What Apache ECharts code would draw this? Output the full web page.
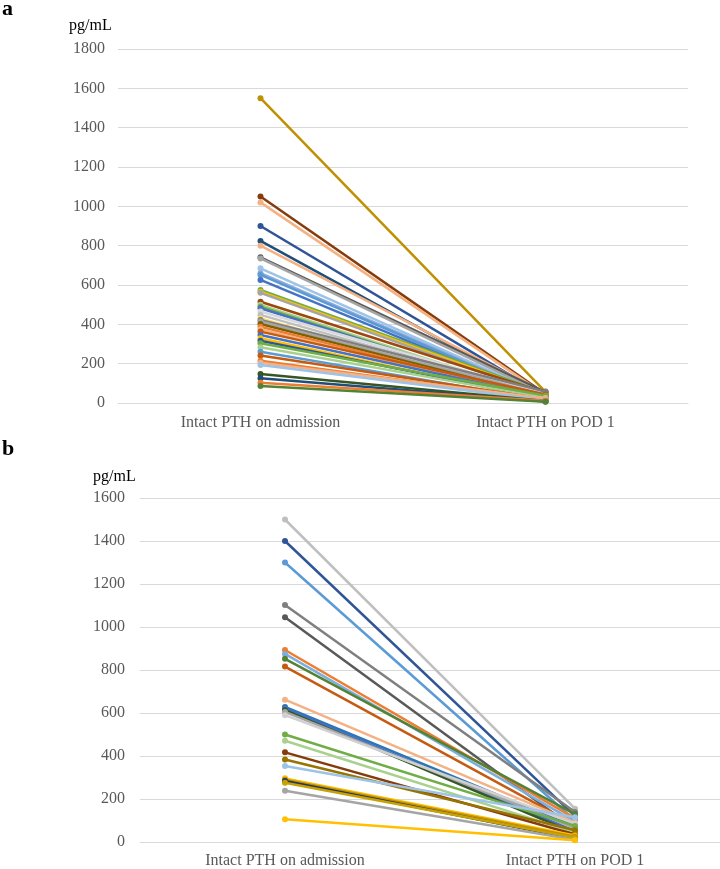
<!DOCTYPE html>
<html>
<head>
<meta charset="utf-8">
<script src="https://cdn.jsdelivr.net/npm/echarts@6/dist/echarts.min.js"></script>
<style>html,body{margin:0;padding:0;background:#fff}#c{width:720px;height:869px}</style>
</head>
<body>
<div id="c"></div>
<script>
const categories = ['Intact PTH on admission', 'Intact PTH on POD 1'];
const yTicksA = [0, 200, 400, 600, 800, 1000, 1200, 1400, 1600, 1800];
const yTicksB = [0, 200, 400, 600, 800, 1000, 1200, 1400, 1600];

// Panel a
const admissionA = [1550, 1050, 1020, 900, 824, 800, 741, 735, 685, 660, 651, 626, 575, 566, 560, 515, 499, 490, 482, 465, 448, 430, 422, 414, 402, 388, 375, 363, 346, 329, 317, 304, 283, 261, 241, 215, 205, 193, 148, 126, 103, 87];
const pod1A =      [57, 45, 40, 35, 30, 48, 55, 42, 38, 33, 28, 25, 50, 44, 36, 52, 30, 22, 27, 46, 34, 20, 58, 39, 31, 24, 18, 43, 29, 15, 21, 37, 26, 12, 19, 16, 23, 14, 10, 8, 11, 6];
const colorsA = ['#BF9000','#843C0C','#F4B183','#2F5597','#1F4E79','#F4B183','#595959','#A5A5A5','#9DC3E6','#8FAADC','#5B9BD5','#4472C4','#70AD47','#FFC000','#A5A5A5','#9E480E','#A9D18E','#70AD47','#4472C4','#D9D9D9','#BFBFBF','#FFD966','#7F7F7F','#A5A5A5','#7F6000','#ED7D31','#F4B183','#C55A11','#4472C4','#FFC000','#2F5597','#70AD47','#A9D18E','#5B9BD5','#C55A11','#ED7D31','#F4B183','#9DC3E6','#375623','#1F4E79','#ED7D31','#548235'];

// Panel b
const admissionB = [1500, 1400, 1300, 1102, 1045, 893, 875, 852, 816, 662, 628, 620, 613, 605, 590, 500, 471, 417, 384, 353, 296, 290, 284, 276, 238, 106];
const pod1B =      [155, 120, 100, 140, 60, 110, 95, 130, 80, 90, 70, 50, 40, 65, 85, 75, 45, 35, 55, 115, 30, 25, 15, 20, 10, 8];
const colorsB = ['#BFBFBF','#2F5597','#5B9BD5','#7F7F7F','#595959','#ED7D31','#7CAFDD','#548235','#C55A11','#F4B183','#2E75B6','#4472C4','#375623','#A5A5A5','#D0D0D0','#70AD47','#A9D18E','#843C0C','#997300','#9DC3E6','#FFC000','#BF9000','#1F3864','#C9A100','#A5A5A5','#FFC000'];

const FONT = '"Liberation Serif", "Times New Roman", serif';
const chart = echarts.init(document.getElementById('c'), null, {renderer: 'canvas'});

function mkSeries(adm, pod, cols, idx) {
  return adm.map((v, i) => ({
    type: 'line',
    xAxisIndex: idx, yAxisIndex: idx,
    data: [v, pod[i]],
    symbol: 'circle', symbolSize: 6,
    lineStyle: {width: 2.5, color: cols[i]},
    itemStyle: {color: cols[i]},
    z: 2 + i * 0.01
  }));
}

const axisLabel = {color: '#595959', fontFamily: FONT, fontSize: 16};
const plain = v => String(v);

chart.setOption({
  animation: false,
  backgroundColor: '#fff',
  grid: [
    {left: 118, right: 32, top: 49, height: 354},
    {left: 140, right: 0, top: 498, height: 346}
  ],
  xAxis: [0, 1].map(i => ({
    type: 'category', gridIndex: i, data: categories, boundaryGap: true,
    axisLine: {show: true, lineStyle: {color: '#D9D9D9', width: 1}},
    axisTick: {show: false},
    axisLabel: Object.assign({margin: i === 0 ? 12 : 11}, axisLabel),
    splitLine: {show: false}
  })),
  yAxis: [
    {type: 'value', gridIndex: 0, min: yTicksA[0], max: yTicksA[yTicksA.length - 1], interval: 200,
     axisLine: {show: false}, axisTick: {show: false},
     axisLabel: Object.assign({margin: 13, formatter: plain}, axisLabel),
     splitLine: {lineStyle: {color: '#D9D9D9', width: 1}}},
    {type: 'value', gridIndex: 1, min: yTicksB[0], max: yTicksB[yTicksB.length - 1], interval: 200,
     axisLine: {show: false}, axisTick: {show: false},
     axisLabel: Object.assign({margin: 15, formatter: plain}, axisLabel),
     splitLine: {lineStyle: {color: '#D9D9D9', width: 1}}}
  ],
  graphic: [
    {type: 'text', left: 2, top: -2, style: {text: 'a', font: 'bold 22px ' + FONT, fill: '#000'}},
    {type: 'text', left: 69, top: 18, style: {text: 'pg/mL', font: '16px ' + FONT, fill: '#000'}},
    {type: 'text', left: 2, top: 438, style: {text: 'b', font: 'bold 22px ' + FONT, fill: '#000'}},
    {type: 'text', left: 93, top: 469, style: {text: 'pg/mL', font: '16px ' + FONT, fill: '#000'}}
  ],
  series: mkSeries(admissionA, pod1A, colorsA, 0).concat(mkSeries(admissionB, pod1B, colorsB, 1))
});
</script>
</body>
</html>
